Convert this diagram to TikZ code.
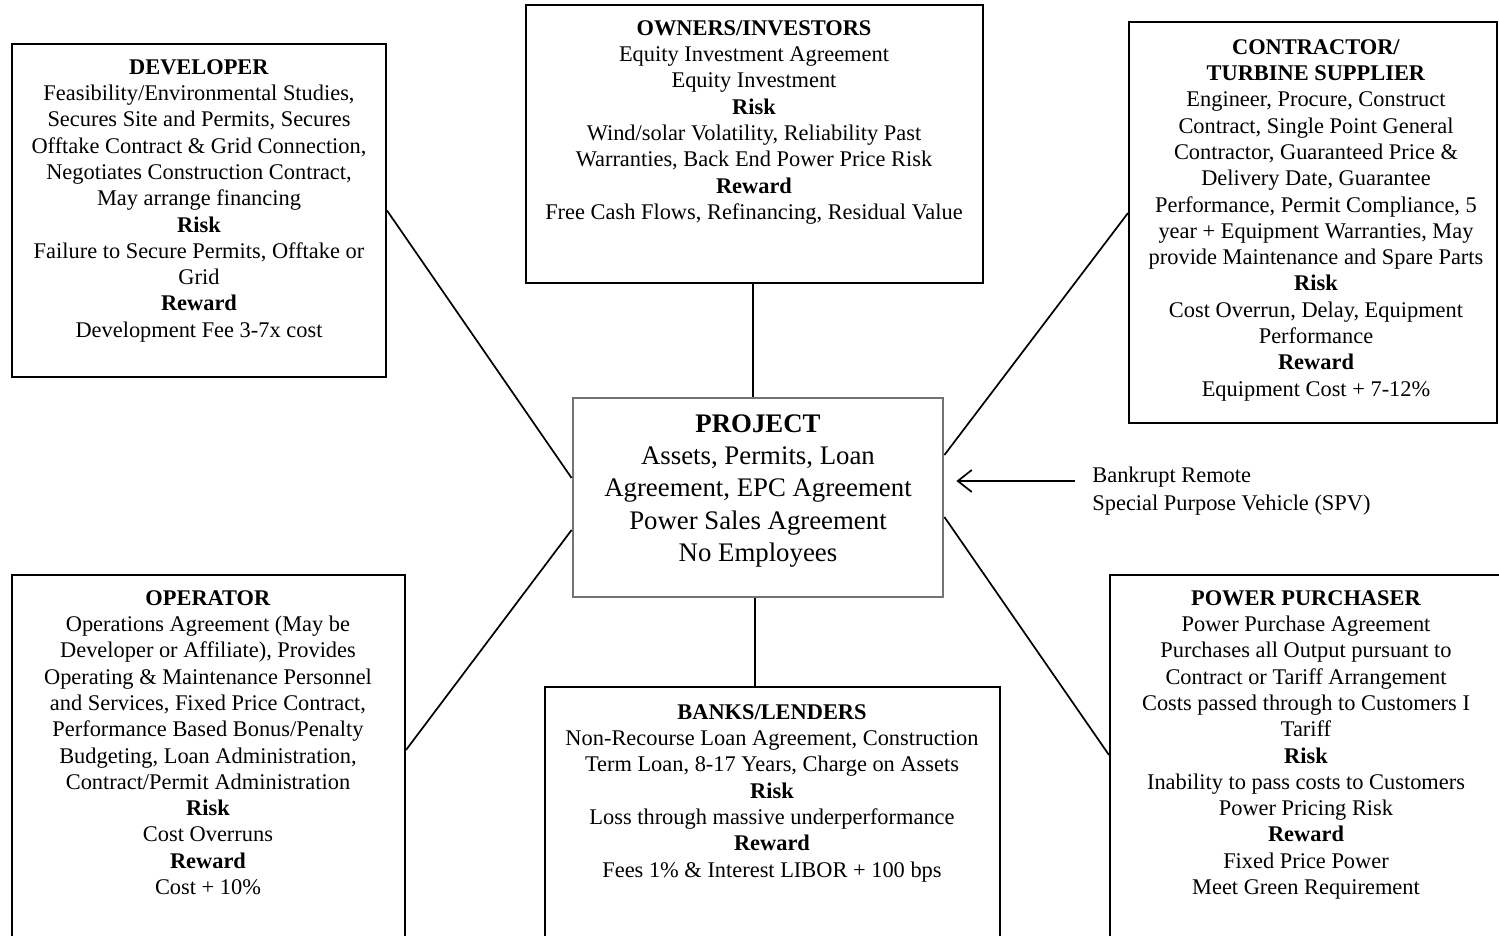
\documentclass[tikz,border=0pt]{standalone}
\usepackage{fontspec}
\setmainfont{Liberation Serif}
\usetikzlibrary{arrows.meta,calc}

\begin{document}
\begin{tikzpicture}[
            x=0.5pt, y=-0.5pt,
            party/.style={draw, line width=1pt, inner sep=0pt},
            partytext/.style={align=center, inner sep=0pt, anchor=north,
                font=\fontsize{11.2}{13.15}\selectfont},
            projectbox/.style={draw=black!55, line width=1.4pt, inner sep=0pt},
            tie/.style={draw, line width=0.85pt}
        ]
        \useasboundingbox (0,0) rectangle (1499,936);
        \clip (0,0) rectangle (1499,936);

        % Project in the middle
        \node[projectbox, minimum width=185pt, minimum height=99.5pt] (project) at (758,497.5) {};
        \node[partytext, font=\fontsize{13.4}{16.15}\selectfont] (project text) at (758,414) {\textbf{PROJECT}\\
            Assets, Permits, Loan\\ Agreement, EPC Agreement\\ Power Sales Agreement\\ No Employees};

        % Developer
        \node[party, minimum width=187pt, minimum height=166.5pt] (developer) at (199,210.5) {};
        \node[partytext] (developer text) at (199,59) {\textbf{DEVELOPER}\\
            Feasibility/Environmental Studies,\\ Secures Site and Permits, Secures\\
            Offtake Contract \& Grid Connection,\\ Negotiates Construction Contract,\\
            May arrange financing\\ \textbf{Risk}\\ Failure to Secure Permits, Offtake or\\ Grid\\
            \textbf{Reward}\\ Development Fee 3-7x cost};

        % Owners/investors
        \node[party, minimum width=228.5pt, minimum height=139pt] (owners) at (754.5,144) {};
        \node[partytext] (owners text) at (754,20) {\textbf{OWNERS/INVESTORS}\\
            Equity Investment Agreement\\ Equity Investment\\ \textbf{Risk}\\
            Wind/solar Volatility, Reliability Past\\ Warranties, Back End Power Price Risk\\
            \textbf{Reward}\\ Free Cash Flows, Refinancing, Residual Value};

        % Contractor/turbine supplier
        \node[party, minimum width=184pt, minimum height=200.5pt] (contractor) at (1313,222.5) {};
        \node[partytext] (contractor text) at (1316,39) {\textbf{CONTRACTOR/}\\ \textbf{TURBINE SUPPLIER}\\
            Engineer, Procure, Construct\\ Contract, Single Point General\\
            Contractor, Guaranteed Price \&\\ Delivery Date, Guarantee\\
            Performance, Permit Compliance, 5\\ year + Equipment Warranties, May\\
            provide Maintenance and Spare Parts\\ \textbf{Risk}\\
            Cost Overrun, Delay, Equipment\\ Performance\\ \textbf{Reward}\\ Equipment Cost + 7-12\%};

        % Operator
        \node[party, minimum width=196.5pt, minimum height=192.5pt] (operator) at (208.5,767.5) {};
        \node[partytext] (operator text) at (208,590) {\textbf{OPERATOR}\\
            Operations Agreement (May be\\ Developer or Affiliate), Provides\\
            Operating \& Maintenance Personnel\\ and Services, Fixed Price Contract,\\
            Performance Based Bonus/Penalty\\ Budgeting, Loan Administration,\\
            Contract/Permit Administration\\ \textbf{Risk}\\ Cost Overruns\\
            \textbf{Reward}\\ Cost + 10\%};

        % Banks/lenders
        \node[party, minimum width=227.5pt, minimum height=136.5pt] (banks) at (772.5,823.5) {};
        \node[partytext] (banks text) at (772,704) {\textbf{BANKS/LENDERS}\\
            Non-Recourse Loan Agreement, Construction\\ Term Loan, 8-17 Years, Charge on Assets\\
            \textbf{Risk}\\ Loss through massive underperformance\\
            \textbf{Reward}\\ Fees 1\% \& Interest LIBOR + 100 bps};

        % Power purchaser
        \node[party, minimum width=196.5pt, minimum height=192.5pt] (purchaser) at (1306.5,767.5) {};
        \node[partytext] (purchaser text) at (1306,590) {\textbf{POWER PURCHASER}\\
            Power Purchase Agreement\\ Purchases all Output pursuant to\\
            Contract or Tariff Arrangement\\ Costs passed through to Customers I\\ Tariff\\
            \textbf{Risk}\\ Inability to pass costs to Customers\\ Power Pricing Risk\\
            \textbf{Reward}\\ Fixed Price Power\\ Meet Green Requirement};

        % Ties to the project
        \draw[tie] (developer.east) -- ([yshift=9.75pt]project.west);
        \draw[tie] (owners.south -| 753,0) -- (project.north -| 753,0);
        \draw[tie] ([yshift=4.75pt]contractor.west) -- ([yshift=21.25pt]project.east);
        \draw[tie] ([yshift=8.75pt]operator.east) -- ([yshift=-16.25pt]project.west);
        \draw[tie] (banks.north -| 755,0) -- (project.south -| 755,0);
        \draw[tie] ([yshift=6.25pt]purchaser.west) -- ([yshift=-9.75pt]project.east);

        % SPV note
        \node[anchor=west, align=left, inner sep=0pt, font=\fontsize{11.2}{14}\selectfont] (spv) at (1092,491)
            {Bankrupt Remote\\ Special Purpose Vehicle (SPV)};
        \coordinate (spv tail) at (1075,481);
        \draw[tie, -{Straight Barb[length=7pt, width=11pt]}] (spv tail) -- ($(project.east |- spv tail)+(12,0)$);
        \end{tikzpicture}
\end{document}
